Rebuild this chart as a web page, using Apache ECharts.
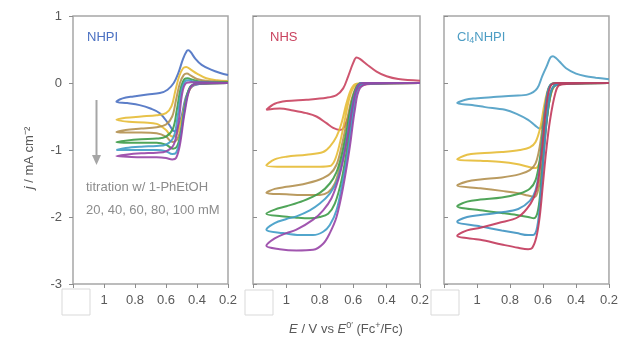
<!DOCTYPE html>
<html>
<head>
<meta charset="utf-8">
<script src="https://cdn.jsdelivr.net/npm/echarts@6/dist/echarts.min.js"></script>
<style>
  html, body { margin: 0; background: #fff; }
  #chart { width: 621px; height: 339px; }
</style>
</head>
<body>
<div id="chart"></div>
<script>
// x ticks (E / V vs Fc), y ticks (j / mA cm-2)
const xTicks = [1.2, 1, 0.8, 0.6, 0.4, 0.2];
const yTicks = [1, 0, -1, -2, -3];
const concentrations = ["0 mM", "20 mM", "40 mM", "60 mM", "80 mM", "100 mM"];
const panelNames = ["NHPI", "NHS", "Cl4NHPI"];

// each CV loop: forward sweep from 0.2 V to the vertex, then back to 0.2 V  [E, j]
const nhpi_0 = [[0.2,0.0],[0.36,-0.01],[0.43,-0.05],[0.47,-0.2],[0.5,-0.5],[0.525,-0.68],[0.545,-0.72],[0.58,-0.62],[0.64,-0.45],[0.70,-0.38],[0.77,-0.33],[0.85,-0.30],[0.92,-0.28],[0.88,-0.23],[0.81,-0.20],[0.72,-0.17],[0.64,-0.15],[0.59,-0.10],[0.55,0.0],[0.52,0.15],[0.49,0.36],[0.465,0.48],[0.455,0.49],[0.44,0.46],[0.41,0.36],[0.37,0.27],[0.31,0.20],[0.25,0.15],[0.2,0.12]];
const nhpi_20 = [[0.2,0.0],[0.38,-0.01],[0.43,-0.04],[0.465,-0.2],[0.5,-0.55],[0.53,-0.76],[0.56,-0.80],[0.6,-0.70],[0.66,-0.61],[0.74,-0.59],[0.84,-0.58],[0.92,-0.55],[0.86,-0.52],[0.76,-0.50],[0.66,-0.48],[0.6,-0.45],[0.565,-0.35],[0.54,-0.12],[0.515,0.1],[0.49,0.22],[0.47,0.24],[0.44,0.2],[0.4,0.14],[0.34,0.07],[0.27,0.04],[0.2,0.03]];
const nhpi_40 = [[0.2,0.0],[0.39,-0.01],[0.44,-0.05],[0.47,-0.25],[0.5,-0.65],[0.53,-0.85],[0.56,-0.88],[0.6,-0.80],[0.66,-0.75],[0.76,-0.74],[0.85,-0.74],[0.92,-0.73],[0.86,-0.70],[0.76,-0.68],[0.66,-0.66],[0.6,-0.62],[0.56,-0.5],[0.535,-0.25],[0.51,0.0],[0.485,0.12],[0.465,0.14],[0.44,0.11],[0.4,0.06],[0.33,0.03],[0.2,0.02]];
const nhpi_60 = [[0.2,0.0],[0.4,-0.01],[0.445,-0.06],[0.475,-0.3],[0.505,-0.75],[0.53,-0.95],[0.555,-0.98],[0.6,-0.92],[0.66,-0.89],[0.76,-0.89],[0.85,-0.89],[0.92,-0.88],[0.86,-0.86],[0.76,-0.84],[0.66,-0.83],[0.6,-0.80],[0.555,-0.68],[0.53,-0.4],[0.505,-0.08],[0.48,0.06],[0.46,0.07],[0.43,0.05],[0.38,0.02],[0.2,0.01]];
const nhpi_80 = [[0.2,0.0],[0.4,-0.01],[0.445,-0.07],[0.48,-0.4],[0.51,-0.85],[0.535,-1.04],[0.56,-1.06],[0.6,-1.02],[0.66,-1.0],[0.76,-1.0],[0.85,-1.0],[0.92,-1.0],[0.86,-0.97],[0.76,-0.95],[0.66,-0.94],[0.6,-0.92],[0.55,-0.8],[0.525,-0.5],[0.5,-0.12],[0.475,0.03],[0.455,0.04],[0.42,0.02],[0.2,0.0]];
const nhpi_100 = [[0.2,0.0],[0.4,-0.01],[0.445,-0.08],[0.48,-0.45],[0.51,-0.92],[0.535,-1.12],[0.56,-1.14],[0.6,-1.12],[0.66,-1.11],[0.76,-1.11],[0.85,-1.10],[0.92,-1.09],[0.86,-1.07],[0.76,-1.05],[0.66,-1.04],[0.6,-1.02],[0.55,-0.92],[0.52,-0.6],[0.495,-0.15],[0.47,0.0],[0.44,0.01],[0.2,0.0]];

const nhs_0 = [[0.2,0.0],[0.45,-0.01],[0.55,-0.04],[0.6,-0.2],[0.63,-0.5],[0.66,-0.68],[0.68,-0.70],[0.72,-0.67],[0.76,-0.60],[0.82,-0.50],[0.88,-0.45],[0.96,-0.41],[1.04,-0.38],[1.12,-0.40],[1.07,-0.31],[1.0,-0.27],[0.88,-0.25],[0.76,-0.22],[0.70,-0.18],[0.66,-0.08],[0.63,0.1],[0.6,0.3],[0.58,0.38],[0.56,0.36],[0.52,0.28],[0.46,0.17],[0.4,0.1],[0.33,0.06],[0.2,0.035]];
const nhs_20 = [[0.2,0.0],[0.55,-0.01],[0.59,-0.04],[0.62,-0.2],[0.65,-0.55],[0.68,-0.9],[0.71,-1.15],[0.74,-1.24],[0.8,-1.25],[0.9,-1.25],[1.0,-1.25],[1.12,-1.23],[1.07,-1.14],[1.0,-1.10],[0.88,-1.07],[0.78,-1.03],[0.74,-0.95],[0.7,-0.8],[0.67,-0.6],[0.64,-0.3],[0.61,-0.08],[0.58,-0.01],[0.5,0.0],[0.2,0.0]];
const nhs_40 = [[0.2,0.0],[0.54,-0.01],[0.58,-0.05],[0.61,-0.35],[0.64,-0.8],[0.675,-1.2],[0.71,-1.5],[0.75,-1.63],[0.8,-1.67],[0.9,-1.67],[1.0,-1.66],[1.12,-1.64],[1.07,-1.58],[1.0,-1.55],[0.9,-1.51],[0.8,-1.44],[0.74,-1.36],[0.7,-1.22],[0.67,-0.95],[0.64,-0.6],[0.61,-0.25],[0.58,-0.05],[0.55,0.0],[0.2,0.0]];
const nhs_60 = [[0.2,0.0],[0.53,-0.01],[0.575,-0.06],[0.605,-0.4],[0.635,-0.95],[0.67,-1.45],[0.71,-1.8],[0.75,-1.95],[0.8,-2.0],[0.86,-2.02],[0.94,-2.01],[1.03,-1.99],[1.12,-1.95],[1.07,-1.89],[1.0,-1.84],[0.9,-1.76],[0.8,-1.64],[0.74,-1.5],[0.7,-1.33],[0.67,-1.08],[0.64,-0.72],[0.61,-0.3],[0.58,-0.06],[0.55,0.0],[0.2,0.0]];
const nhs_80 = [[0.2,0.0],[0.52,-0.01],[0.57,-0.07],[0.6,-0.45],[0.63,-1.0],[0.665,-1.5],[0.7,-1.9],[0.74,-2.12],[0.78,-2.22],[0.84,-2.27],[0.92,-2.27],[1.02,-2.24],[1.12,-2.19],[1.07,-2.09],[1.0,-2.03],[0.94,-1.99],[0.86,-1.9],[0.8,-1.8],[0.74,-1.65],[0.7,-1.48],[0.67,-1.22],[0.64,-0.85],[0.61,-0.38],[0.58,-0.08],[0.55,0.0],[0.2,0.0]];
const nhs_100 = [[0.2,0.0],[0.5,-0.01],[0.56,-0.08],[0.59,-0.4],[0.62,-0.95],[0.66,-1.55],[0.7,-2.0],[0.74,-2.24],[0.78,-2.4],[0.84,-2.49],[0.94,-2.5],[1.04,-2.48],[1.12,-2.43],[1.07,-2.32],[1.0,-2.24],[0.94,-2.19],[0.84,-2.04],[0.78,-1.9],[0.73,-1.72],[0.69,-1.45],[0.66,-1.15],[0.63,-0.75],[0.6,-0.3],[0.575,-0.06],[0.54,0.0],[0.2,0.0]];

const cl4_0 = [[0.2,0.0],[0.45,-0.01],[0.52,-0.03],[0.555,-0.15],[0.585,-0.45],[0.605,-0.64],[0.62,-0.68],[0.645,-0.64],[0.69,-0.55],[0.76,-0.46],[0.83,-0.40],[0.95,-0.36],[1.03,-0.33],[1.12,-0.30],[1.07,-0.25],[1.01,-0.23],[0.9,-0.21],[0.78,-0.19],[0.69,-0.17],[0.635,-0.08],[0.605,0.1],[0.576,0.26],[0.555,0.38],[0.54,0.40],[0.52,0.37],[0.5,0.32],[0.46,0.22],[0.4,0.14],[0.34,0.1],[0.28,0.08],[0.2,0.055]];
const cl4_20 = [[0.2,0.0],[0.45,-0.01],[0.52,-0.03],[0.55,-0.15],[0.575,-0.5],[0.6,-0.95],[0.62,-1.18],[0.645,-1.27],[0.69,-1.25],[0.76,-1.21],[0.85,-1.18],[0.98,-1.16],[1.12,-1.14],[1.06,-1.07],[0.98,-1.05],[0.85,-1.03],[0.74,-1.0],[0.68,-0.96],[0.645,-0.88],[0.615,-0.65],[0.59,-0.3],[0.565,-0.07],[0.54,-0.01],[0.5,0.0],[0.2,0.0]];
const cl4_40 = [[0.2,0.0],[0.45,-0.01],[0.525,-0.03],[0.555,-0.2],[0.58,-0.6],[0.605,-1.2],[0.625,-1.55],[0.65,-1.70],[0.69,-1.68],[0.76,-1.64],[0.85,-1.61],[0.98,-1.57],[1.12,-1.53],[1.06,-1.47],[0.98,-1.44],[0.85,-1.41],[0.74,-1.36],[0.68,-1.3],[0.645,-1.2],[0.62,-0.95],[0.595,-0.5],[0.57,-0.12],[0.545,-0.01],[0.5,0.0],[0.2,0.0]];
const cl4_60 = [[0.2,0.0],[0.45,-0.01],[0.53,-0.04],[0.56,-0.25],[0.585,-0.75],[0.61,-1.45],[0.63,-1.9],[0.655,-2.02],[0.69,-2.0],[0.76,-1.97],[0.85,-1.94],[0.98,-1.9],[1.12,-1.84],[1.06,-1.77],[0.98,-1.74],[0.85,-1.71],[0.74,-1.65],[0.68,-1.58],[0.645,-1.45],[0.62,-1.15],[0.6,-0.7],[0.575,-0.2],[0.55,-0.02],[0.5,0.0],[0.2,0.0]];
const cl4_80 = [[0.2,0.0],[0.45,-0.01],[0.535,-0.05],[0.565,-0.3],[0.59,-0.9],[0.615,-1.7],[0.635,-2.15],[0.66,-2.27],[0.69,-2.27],[0.76,-2.24],[0.85,-2.2],[0.98,-2.14],[1.12,-2.07],[1.06,-2.0],[0.98,-1.97],[0.85,-1.93],[0.75,-1.88],[0.68,-1.76],[0.645,-1.6],[0.62,-1.25],[0.6,-0.75],[0.58,-0.25],[0.555,-0.03],[0.5,0.0],[0.2,0.0]];
const cl4_100 = [[0.2,0.0],[0.42,-0.01],[0.5,-0.03],[0.525,-0.15],[0.557,-0.55],[0.58,-1.0],[0.6,-1.5],[0.62,-2.0],[0.64,-2.3],[0.665,-2.46],[0.69,-2.48],[0.75,-2.46],[0.85,-2.41],[0.98,-2.34],[1.12,-2.28],[1.06,-2.2],[0.98,-2.16],[0.87,-2.09],[0.75,-2.0],[0.675,-1.8],[0.64,-1.6],[0.62,-1.3],[0.6,-0.85],[0.58,-0.35],[0.555,-0.05],[0.52,0.0],[0.2,0.0]];

const panels = [
  [nhpi_0, nhpi_20, nhpi_40, nhpi_60, nhpi_80, nhpi_100],
  [nhs_0, nhs_20, nhs_40, nhs_60, nhs_80, nhs_100],
  [cl4_0, cl4_20, cl4_40, cl4_60, cl4_80, cl4_100],
];
const panelColors = [
  ["#4a70c2", "#e5bb35", "#b3904f", "#3d9b47", "#3f9cc6", "#9744a6"],
  ["#c9435f", "#e5bb35", "#b3904f", "#3d9b47", "#3f9cc6", "#9744a6"],
  ["#4d9dc4", "#e5bb35", "#b3904f", "#3d9b47", "#3f94c2", "#c2385b"],
];

const FONT = '"Liberation Sans", Arial, sans-serif';
const grids = [
  { left: 73, top: 16, width: 155, height: 268 },
  { left: 253, top: 16, width: 167, height: 268 },
  { left: 444, top: 16, width: 170, height: 268 },
];

const chart = echarts.init(document.getElementById("chart"));

const series = [];
panels.forEach((curves, p) => {
  curves.forEach((data, k) => {
    series.push({
      name: panelNames[p] + " " + concentrations[k],
      type: "line",
      xAxisIndex: p,
      yAxisIndex: p,
      data: data,
      smooth: 0.35,
      symbol: "none",
      lineStyle: { width: 2, color: panelColors[p][k], opacity: 0.9 },
      emphasis: { disabled: true },
      z: 2 + k,
    });
  });
});

// white boxes that hide the 1.2 tick labels
const hideBoxes = [[62, 289, 28, 26], [245, 290, 28, 25], [431, 290, 28, 25]];

chart.setOption({
  animation: false,
  grid: grids.map((g) => ({ ...g, show: true, borderColor: "#a6a6a6", borderWidth: 1.5, backgroundColor: "transparent" })),
  xAxis: grids.map((g, i) => ({
    gridIndex: i,
    type: "value",
    min: 0.2,
    max: 1.2,
    interval: 0.2,
    inverse: true,
    position: "bottom",
    axisLine: { show: false, onZero: false },
    splitLine: { show: false },
    axisTick: { show: true, length: 4, lineStyle: { color: "#8c8c8c", width: 1 } },
    axisLabel: {
      color: "#595959",
      fontSize: 13,
      fontFamily: FONT,
      margin: 10,
      formatter: (v) => (v > 1.1 ? "" : String(+v.toFixed(1))),
    },
  })),
  yAxis: grids.map((g, i) => ({
    gridIndex: i,
    type: "value",
    min: -3,
    max: 1,
    interval: 1,
    position: "left",
    axisLine: { show: false, onZero: false },
    splitLine: { show: false },
    axisTick: { show: true, inside: i > 0, length: 4, lineStyle: { color: "#8c8c8c", width: 1 } },
    axisLabel: { show: i === 0, color: "#595959", fontSize: 13, fontFamily: FONT, margin: 11 },
  })),
  series: series,
  graphic: [
    {
      type: "text", x: 87, y: 37, z: 10,
      style: { text: "NHPI", fill: "#4a70c2", font: "13px " + FONT, verticalAlign: "middle", textVerticalAlign: "middle" },
    },
    {
      type: "text", x: 270, y: 37, z: 10,
      style: { text: "NHS", fill: "#c9435f", font: "13px " + FONT, verticalAlign: "middle", textVerticalAlign: "middle" },
    },
    {
      type: "text", x: 457, y: 37, z: 10,
      style: {
        text: "{a|Cl}{s|4}{a|NHPI}",
        fill: "#4d9dc4",
        verticalAlign: "middle", textVerticalAlign: "middle",
        rich: {
          a: { fontSize: 13, fontFamily: FONT, lineHeight: 16, fill: "#4d9dc4", color: "#4d9dc4" },
          s: { fontSize: 9, fontFamily: FONT, lineHeight: 9, verticalAlign: "bottom", fill: "#4d9dc4", color: "#4d9dc4" },
        },
      },
    },
    // titration arrow
    {
      type: "line", z: 10,
      shape: { x1: 96.5, y1: 100, x2: 96.5, y2: 157 },
      style: { stroke: "#a6a6a6", lineWidth: 2 },
    },
    {
      type: "polygon", z: 10,
      shape: { points: [[92, 155], [101, 155], [96.5, 165]] },
      style: { fill: "#a6a6a6" },
    },
    {
      type: "text", x: 86, y: 187, z: 10,
      style: { text: "titration w/ 1-PhEtOH", fill: "#8c8c8c", font: "13px " + FONT, verticalAlign: "middle", textVerticalAlign: "middle" },
    },
    {
      type: "text", x: 86, y: 210, z: 10,
      style: { text: "20, 40, 60, 80, 100 mM", fill: "#8c8c8c", font: "13px " + FONT, verticalAlign: "middle", textVerticalAlign: "middle" },
    },
    // axis names
    {
      type: "text", x: 29, y: 158, rotation: Math.PI / 2, z: 10,
      style: {
        text: "{i|j} / mA cm⁻²",
        fill: "#595959",
        font: "13px " + FONT,
        align: "center", textAlign: "center",
        verticalAlign: "middle", textVerticalAlign: "middle",
        rich: { i: { fontStyle: "italic", fontSize: 13, fontFamily: FONT, fill: "#595959", color: "#595959" } },
      },
    },
    {
      type: "text", x: 346, y: 329, z: 10,
      style: {
        text: "{i|E} / V vs {i|E}{s|0′} (Fc{s|+}/Fc)",
        fill: "#595959",
        font: "13px " + FONT,
        align: "center", textAlign: "center",
        verticalAlign: "middle", textVerticalAlign: "middle",
        rich: {
          i: { fontStyle: "italic", fontSize: 13, fontFamily: FONT, lineHeight: 16, fill: "#595959", color: "#595959" },
          s: { fontSize: 9, fontFamily: FONT, lineHeight: 9, verticalAlign: "top", fill: "#595959", color: "#595959" },
        },
      },
    },
  ].concat(hideBoxes.map((b) => ({
    type: "rect", z: 20,
    shape: { x: b[0], y: b[1], width: b[2], height: b[3] },
    style: { fill: "#fff", stroke: "#d9d9d9", lineWidth: 1 },
  }))),
});
</script>
</body>
</html>
